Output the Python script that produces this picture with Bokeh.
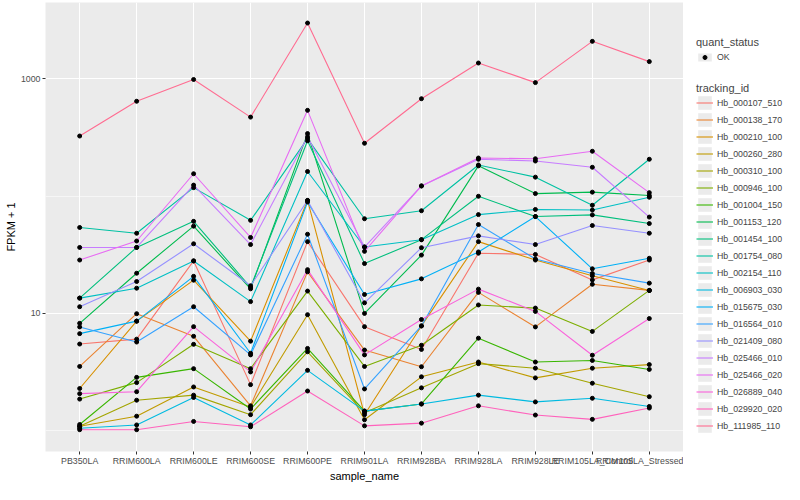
from bokeh.plotting import figure
from bokeh.models import (FactorRange, Range1d, FixedTicker, Legend, LegendItem,
                          PrintfTickFormatter)
from bokeh.layouts import row
from bokeh.embed import file_html
from bokeh.resources import INLINE

samples = ["PB350LA", "RRIM600LA", "RRIM600LE", "RRIM600SE", "RRIM600PE", "RRIM901LA",
           "RRIM928BA", "RRIM928LA", "RRIM928LE", "RRIM105LA_Control", "RRIM105LA_Stressed"]

tracking_ids = ["Hb_000107_510", "Hb_000138_170", "Hb_000210_100", "Hb_000260_280",
                "Hb_000310_100", "Hb_000946_100", "Hb_001004_150", "Hb_001153_120",
                "Hb_001454_100", "Hb_001754_080", "Hb_002154_110", "Hb_006903_030",
                "Hb_015675_030", "Hb_016564_010", "Hb_021409_080", "Hb_025466_010",
                "Hb_025466_020", "Hb_026889_040", "Hb_029920_020", "Hb_111985_110"]

colors = ["#F8766D", "#EA8331", "#D89000", "#C09B00", "#A3A500", "#7CAE00", "#39B600",
          "#00BB4E", "#00BF7D", "#00C1A3", "#00BFC4", "#00BAE0", "#00B0F6", "#35A2FF",
          "#9590FF", "#C77CFF", "#E76BF3", "#FA62DB", "#FF62BC", "#FF6C91"]

hb_000107_510 = [5.48, 6.03, 28.0, 2.47, 40.9, 7.71, 4.93, 32.6, 31.8, 19.3, 28.5]
hb_000138_170 = [3.53, 9.94, 6.38, 1.63, 22.6, 4.87, 3.51, 15.1, 7.67, 17.7, 15.7]
hb_000210_100 = [2.29, 8.59, 19.2, 5.80, 91.8, 1.37, 7.82, 40.9, 28.5, 20.9, 15.7]
hb_000260_280 = [1.09, 1.33, 2.36, 1.59, 9.75, 1.24, 2.88, 3.85, 2.82, 3.41, 3.66]
hb_000310_100 = [1.09, 1.82, 2.01, 1.37, 4.71, 1.42, 2.32, 3.73, 3.41, 2.54, 1.95]
hb_000946_100 = [1.86, 2.57, 5.45, 3.38, 15.5, 3.53, 5.35, 11.8, 11.1, 7.02, 15.7]
hb_001004_150 = [1.13, 2.85, 3.38, 1.53, 5.03, 1.47, 1.69, 6.15, 3.85, 3.97, 3.33]
hb_001153_120 = [8.23, 22.0, 55.4, 16.2, 341, 10.0, 31.4, 181, 105, 108, 101]
hb_001454_100 = [13.5, 36.5, 60.9, 16.7, 296, 26.6, 42.5, 99.6, 66.9, 69.1, 58.3]
hb_001754_080 = [54.0, 48.2, 118, 62.1, 309, 64.1, 75.0, 184, 145, 83.5, 206]
hb_002154_110 = [13.5, 16.4, 28.0, 12.6, 162, 36.8, 42.5, 69.5, 76.9, 76.0, 97.7]
hb_006903_030 = [1.05, 1.12, 1.92, 1.12, 3.27, 1.47, 1.69, 2.01, 1.76, 1.89, 1.61]
hb_015675_030 = [6.72, 8.59, 20.7, 4.57, 88.9, 14.5, 19.7, 33.4, 66.9, 24.0, 29.5]
hb_016564_010 = [7.67, 5.70, 11.4, 4.43, 47.3, 2.27, 7.82, 57.2, 29.1, 21.9, 18.1]
hb_021409_080 = [11.4, 18.7, 39.2, 17.2, 91.8, 12.3, 36.3, 45.8, 38.6, 56.1, 48.2]
hb_025466_010 = [36.5, 36.5, 124, 38.6, 321, 36.8, 122, 206, 199, 176, 66.2]
hb_025466_020 = [28.5, 41.4, 155, 44.4, 538, 33.8, 122, 211, 208, 241, 107]
hb_026889_040 = [2.07, 2.15, 7.71, 3.17, 23.6, 4.43, 8.87, 16.1, 10.4, 4.40, 9.04]
hb_029920_020 = [1.02, 1.02, 1.20, 1.08, 2.18, 1.10, 1.16, 1.63, 1.36, 1.25, 1.56]
hb_111985_110 = [325, 643, 986, 471, 2985, 282, 676, 1362, 927, 2084, 1400]

series = [hb_000107_510, hb_000138_170, hb_000210_100, hb_000260_280, hb_000310_100,
          hb_000946_100, hb_001004_150, hb_001153_120, hb_001454_100, hb_001754_080,
          hb_002154_110, hb_006903_030, hb_015675_030, hb_016564_010, hb_021409_080,
          hb_025466_010, hb_025466_020, hb_026889_040, hb_029920_020, hb_111985_110]

y_ticks = [10, 1000]
y_minor = [1, 100]

FONT = "Liberation Sans"
NAN = float("nan")

p = figure(width=683, height=484, output_backend="svg", toolbar_location=None,
           x_range=FactorRange(*samples, range_padding=0.1, range_padding_units="absolute"),
           y_axis_type="log", y_range=Range1d(0.665, 4467),
           min_border_left=45, min_border_right=0, min_border_top=2, min_border_bottom=32)
p.background_fill_color = "#EBEBEB"
p.border_fill_color = "white"
p.outline_line_color = None

for vals, c in zip(series, colors):
    p.line(x=samples, y=vals, line_color=c, line_width=1.1)

px, py = [], []
for vals in series:
    px += samples
    py += vals
p.scatter(x=px, y=py, size=4, color="black")

p.yaxis.ticker = FixedTicker(ticks=y_ticks, minor_ticks=y_minor)
p.yaxis.formatter = PrintfTickFormatter(format="%d")
p.ygrid.grid_line_color = "white"
p.ygrid.grid_line_width = 1.1
p.ygrid.minor_grid_line_color = "white"
p.ygrid.minor_grid_line_width = 0.55
p.xgrid.grid_line_color = "white"
p.xgrid.grid_line_width = 1.1

for ax in (p.xaxis[0], p.yaxis[0]):
    ax.axis_line_color = None
    ax.major_tick_line_color = "#333333"
    ax.major_tick_out = 3
    ax.major_tick_in = 0
    ax.minor_tick_line_color = None
    ax.major_label_text_font = FONT
    ax.major_label_text_font_size = "8.8px"
    ax.major_label_text_color = "#4D4D4D"
    ax.major_label_standoff = 1
    ax.axis_label_text_font = FONT
    ax.axis_label_text_font_size = "11px"
    ax.axis_label_text_font_style = "normal"
    ax.axis_label_text_color = "black"
    ax.axis_label_standoff = 1
p.xaxis.axis_label = "sample_name"
p.yaxis.axis_label = "FPKM + 1"

# ---- legend panel (a second, axis-less figure holding only the two legends)
p2 = figure(width=101, height=484, output_backend="svg", toolbar_location=None,
            x_range=Range1d(0, 1), y_range=Range1d(0, 1),
            x_axis_location=None, y_axis_location=None,
            min_border_left=0, min_border_right=0, min_border_top=2, min_border_bottom=32)
p2.outline_line_color = None
p2.grid.visible = False
p2.background_fill_color = "white"
p2.border_fill_color = "white"

key_bg = p2.rect(x=[0.5], y=[NAN], width=1, height=1, fill_color="#EBEBEB", line_color=None)
ok_r = p2.scatter(x=[0.5], y=[NAN], size=4, color="black")
items = []
for tid, c in zip(tracking_ids, colors):
    r = p2.line(x=[0.5, 0.5], y=[NAN, NAN], line_color=c, line_width=1.1)
    items.append(LegendItem(label=tid, renderers=[key_bg, r]))


def style(leg, gh=17):
    leg.border_line_color = None
    leg.background_fill_alpha = 0
    leg.padding = 0
    leg.margin = 0
    leg.spacing = 0
    leg.glyph_width = 17
    leg.glyph_height = gh
    leg.label_height = 17
    leg.label_standoff = 4
    leg.label_text_font = FONT
    leg.label_text_font_size = "8.8px"
    leg.title_text_font = FONT
    leg.title_text_font_size = "11px"
    leg.title_text_font_style = "normal"
    leg.title_standoff = 0


leg1 = Legend(items=[LegendItem(label="OK", renderers=[key_bg, ok_r])], title="quant_status",
              location=(13, 386))
leg2 = Legend(items=items, title="tracking_id", location=(13, 17))
style(leg1, gh=10)
style(leg2)
p2.add_layout(leg1)
p2.add_layout(leg2)

open("out.html", "w").write(file_html(row(p, p2), INLINE))
